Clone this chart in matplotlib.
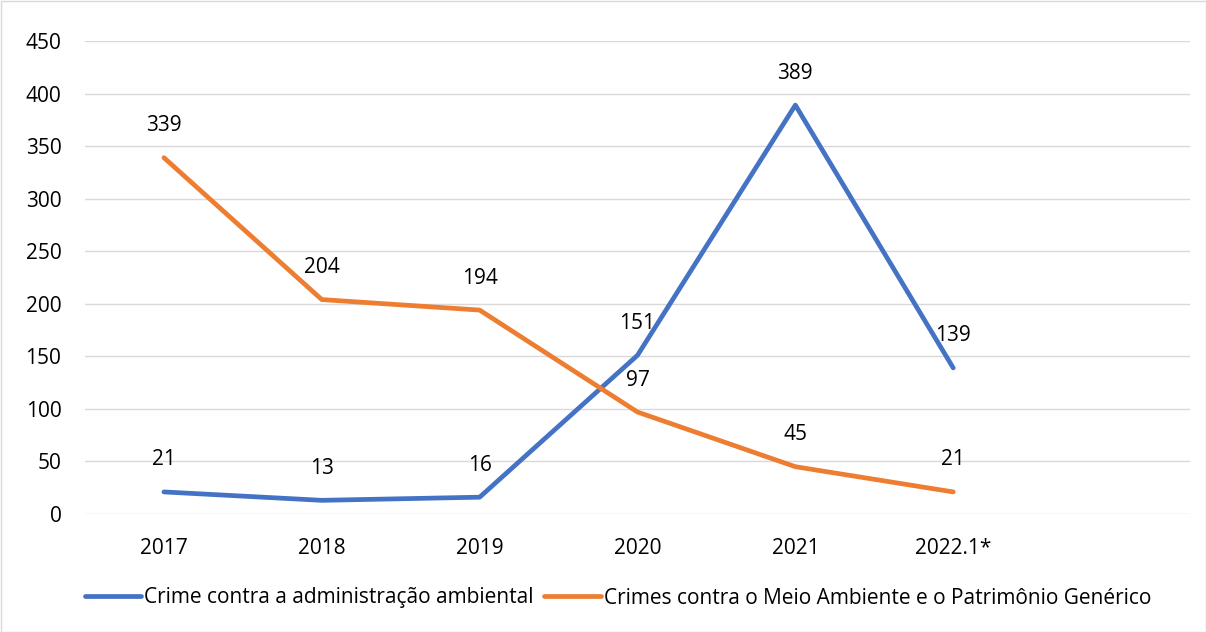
import numpy as np
import matplotlib.pyplot as plt
from matplotlib.patches import Rectangle

plt.rcParams['font.family'] = ['Open Sans', 'DejaVu Sans']

# ====== data ======
anos = ['2017', '2018', '2019', '2020', '2021', '2022.1*']
adm_ambiental = [21, 13, 16, 151, 389, 139]
meio_ambiente = [339, 204, 194, 97, 45, 21]
yticks = [0, 50, 100, 150, 200, 250, 300, 350, 400, 450]

azul = '#4472C4'
laranja = '#ED7D31'

fig = plt.figure(figsize=(12.06, 6.32), dpi=100)
ax = fig.add_axes([85/1206, 118/632, 1105/1206, 473/632])

x = np.arange(len(anos))
ax.plot(x, adm_ambiental, color=azul, lw=3.4, solid_capstyle='round',
        label='Crime contra a administração ambiental', zorder=3)
ax.plot(x, meio_ambiente, color=laranja, lw=3.4, solid_capstyle='round',
        label='Crimes contra o Meio Ambiente e o Patrimônio Genérico', zorder=3)

#=== data labels
for serie in (adm_ambiental, meio_ambiente):
    for xi, v in zip(x, serie):
        ax.annotate(str(v), (xi, v), xytext=(0, 23), textcoords='offset points',
                    ha='center', va='center', fontsize=15, color='#000000')

ax.set_xlim(-0.5, 6.5)
ax.set_ylim(0, 450)
ax.set_xticks(x)
ax.set_xticklabels(anos)
ax.set_yticks(yticks)
ax.tick_params(axis='both', length=0, labelsize=15, colors='#000000')
ax.tick_params(axis='x', pad=17)
ax.tick_params(axis='y', pad=17)
ax.grid(axis='y', color='#D9D9D9', lw=1)
ax.set_axisbelow(True)
for s in ax.spines.values():
    s.set_visible(False)

leg = fig.legend(loc='center', bbox_to_anchor=(618/1206, 34/632), ncol=2, frameon=False,
                 fontsize=15, handlelength=2.7, handletextpad=0.15, columnspacing=0.5)

# borda externa
fig.patches.append(Rectangle((0.5/1206, 0.5/632), 1 - 1/1206, 1 - 1/632,
                             transform=fig.transFigure, fill=False,
                             edgecolor='#D9D9D9', lw=1))

fig.savefig('out.png', dpi=100)
